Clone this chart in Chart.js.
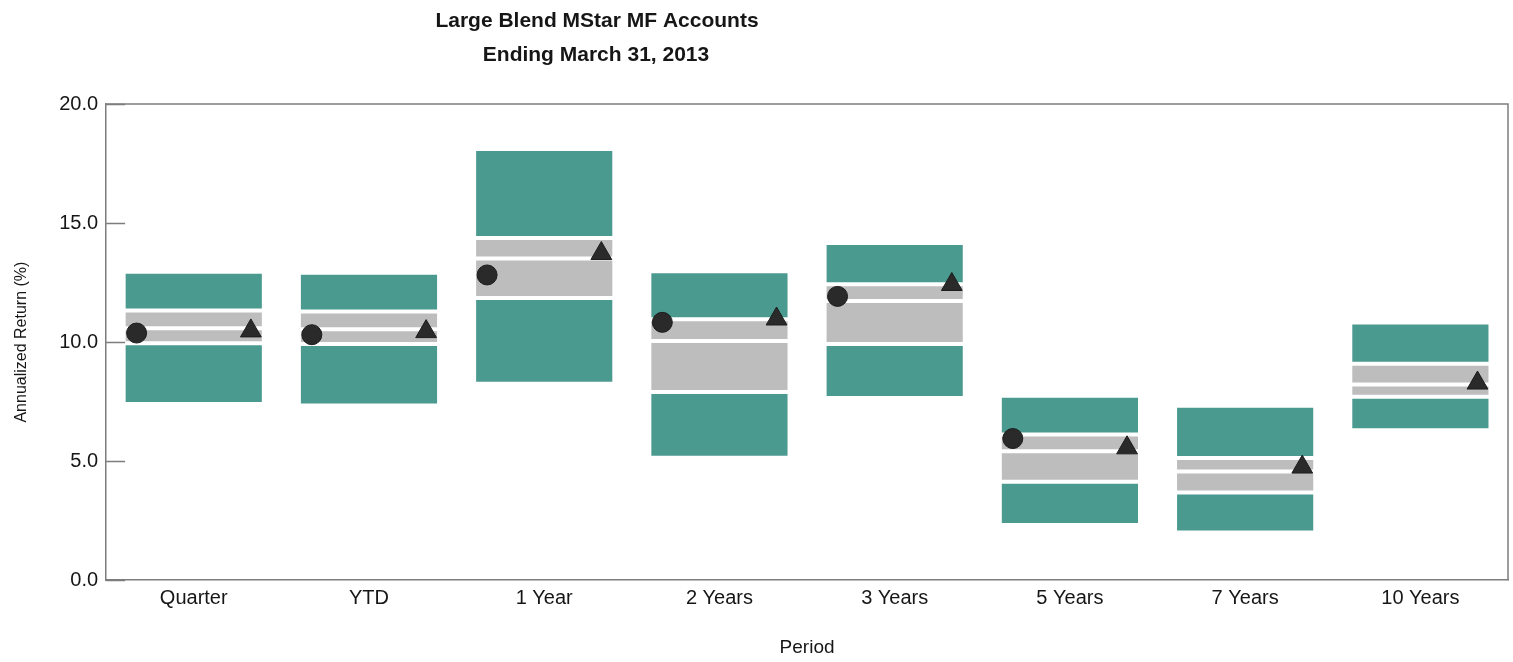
<!DOCTYPE html>
<html>
<head>
<meta charset="utf-8">
<script src="https://cdn.jsdelivr.net/npm/chart.js@4.4.1/dist/chart.umd.min.js"></script>
<style>
  html, body { margin: 0; padding: 0; background: #ffffff; overflow: hidden; }
  #wrap { width: 1513px; height: 662px; }
  canvas { display: block; }
</style>
</head>
<body>
<div id="wrap"><canvas id="chart" width="1513" height="662"></canvas></div>
<script>
// Peer-group percentile bands (annualized return, %)
const periods = ['Quarter', 'YTD', '1 Year', '2 Years', '3 Years', '5 Years', '7 Years', '10 Years'];
const pct5   = [12.95, 12.91, 18.11, 12.98, 14.16, 7.75, 7.33, 10.82];
const pct25  = [11.33, 11.28, 14.37, 10.96, 12.43, 6.12, 5.13, 9.09];
const median = [10.58, 10.54, 13.51, 10.05, 11.73, 5.42, 4.57, 8.22];
const pct75  = [9.95, 9.92, 11.85, 7.90, 9.92, 4.14, 3.68, 7.70];
const pct95  = [7.40, 7.34, 8.25, 5.14, 7.65, 2.32, 2.00, 6.30];
// Account return (circle) and benchmark return (triangle)
const accountReturn   = [10.38, 10.31, 12.82, 10.83, 11.92, 5.95, null, null];
const benchmarkReturn = [10.47, 10.44, 13.72, 10.97, 12.42, 5.56, 4.75, 8.28];
const yTickValues = [0, 5, 10, 15, 20];
const titleLines = ['Large Blend MStar MF Accounts', 'Ending March 31, 2013'];

const TEAL = '#4b9a90';
const GREY = '#bdbdbd';
const MARK = '#2a2a2a';
const AXIS = '#7d7d7d';
const FONT = "'Liberation Sans', Arial, Helvetica, sans-serif";
const MARKER_SHIFT = 0.326; // markers sit near the left/right edge of each band

function band(lo, hi) {
  return periods.map((_, i) => [lo[i], hi[i]]);
}
function markerPoints(values, shift) {
  const pts = [];
  values.forEach((v, i) => { if (v != null) pts.push({ x: i + shift, y: v }); });
  return pts;
}

const barStyle = {
  type: 'bar',
  grouped: false,
  barPercentage: 0.8,
  categoryPercentage: 1.0,
  borderWidth: 2,
  borderColor: '#ffffff',
  borderSkipped: false,
  xAxisID: 'x',
  yAxisID: 'y'
};

// Chart title, placed over the left part of the plot
const titlePlugin = {
  id: 'sideTitle',
  afterDraw(chart) {
    const ctx = chart.ctx;
    ctx.save();
    ctx.fillStyle = '#161616';
    ctx.font = 'bold 21px ' + FONT;
    ctx.textAlign = 'center';
    ctx.textBaseline = 'alphabetic';
    ctx.fillText(titleLines[0], 597, 27);
    ctx.fillText(titleLines[1], 596, 61);
    ctx.restore();
  }
};

// Box frame around the plot and inward tick marks on the value axis
const framePlugin = {
  id: 'frameTicks',
  afterDraw(chart) {
    const { ctx, chartArea: a, scales } = chart;
    ctx.save();
    ctx.strokeStyle = AXIS;
    ctx.lineWidth = 1.5;
    ctx.beginPath();
    ctx.moveTo(a.left, a.top);
    ctx.lineTo(a.right, a.top);
    ctx.lineTo(a.right, a.bottom);
    ctx.stroke();
    ctx.beginPath();
    scales.y.ticks.forEach(t => {
      const py = Math.round(scales.y.getPixelForValue(t.value)) + 0.5;
      ctx.moveTo(a.left, py);
      ctx.lineTo(a.left + 19, py);
    });
    ctx.stroke();
    ctx.restore();
  }
};

new Chart(document.getElementById('chart'), {
  data: {
    labels: periods,
    datasets: [
      Object.assign({ label: '5th-25th', data: band(pct5, pct25), backgroundColor: TEAL }, barStyle),
      Object.assign({ label: '25th-Median', data: band(pct25, median), backgroundColor: GREY }, barStyle),
      Object.assign({ label: 'Median-75th', data: band(median, pct75), backgroundColor: GREY }, barStyle),
      Object.assign({ label: '75th-95th', data: band(pct75, pct95), backgroundColor: TEAL }, barStyle),
      {
        type: 'scatter',
        label: 'Account',
        data: markerPoints(accountReturn, -MARKER_SHIFT),
        xAxisID: 'xm',
        yAxisID: 'y',
        pointStyle: 'circle',
        pointRadius: 10,
        pointBackgroundColor: MARK,
        pointBorderColor: '#1c1c1c',
        pointBorderWidth: 1,
        order: -1
      },
      {
        type: 'scatter',
        label: 'Benchmark',
        data: markerPoints(benchmarkReturn, MARKER_SHIFT),
        xAxisID: 'xm',
        yAxisID: 'y',
        pointStyle: 'triangle',
        pointRadius: 12,
        pointBackgroundColor: MARK,
        pointBorderColor: '#1c1c1c',
        pointBorderWidth: 1,
        order: -1
      }
    ]
  },
  options: {
    responsive: false,
    animation: false,
    devicePixelRatio: 1,
    layout: { autoPadding: false, padding: { top: 104, right: 5, left: 0, bottom: 0 } },
    plugins: {
      legend: { display: false },
      tooltip: { enabled: false },
      title: { display: false }
    },
    scales: {
      x: {
        type: 'category',
        offset: true,
        grid: { display: false, drawTicks: false },
        border: { display: true, color: AXIS, width: 1.5 },
        ticks: { color: '#161616', font: { family: FONT, size: 20 }, padding: 6, maxRotation: 0 },
        title: {
          display: true, text: 'Period', color: '#161616',
          font: { family: FONT, size: 19 }, padding: { top: 20, bottom: 3 }
        }
      },
      xm: {
        type: 'linear',
        display: false,
        min: -0.5,
        max: 7.5,
        ticks: { display: false },
        grid: { display: false, drawTicks: false }
      },
      y: {
        type: 'linear',
        min: 0,
        max: 20,
        afterBuildTicks: scale => { scale.ticks = yTickValues.map(v => ({ value: v })); },
        grid: { display: false, drawTicks: false },
        border: { display: true, color: AXIS, width: 1.5 },
        ticks: {
          color: '#161616', font: { family: FONT, size: 20 }, padding: 8,
          callback: v => Number(v).toFixed(1)
        },
        title: {
          display: true, text: 'Annualized Return (%)', color: '#161616',
          font: { family: FONT, size: 16 }, padding: { top: 12, bottom: 20 }
        }
      }
    }
  },
  plugins: [titlePlugin, framePlugin]
});
</script>
</body>
</html>
